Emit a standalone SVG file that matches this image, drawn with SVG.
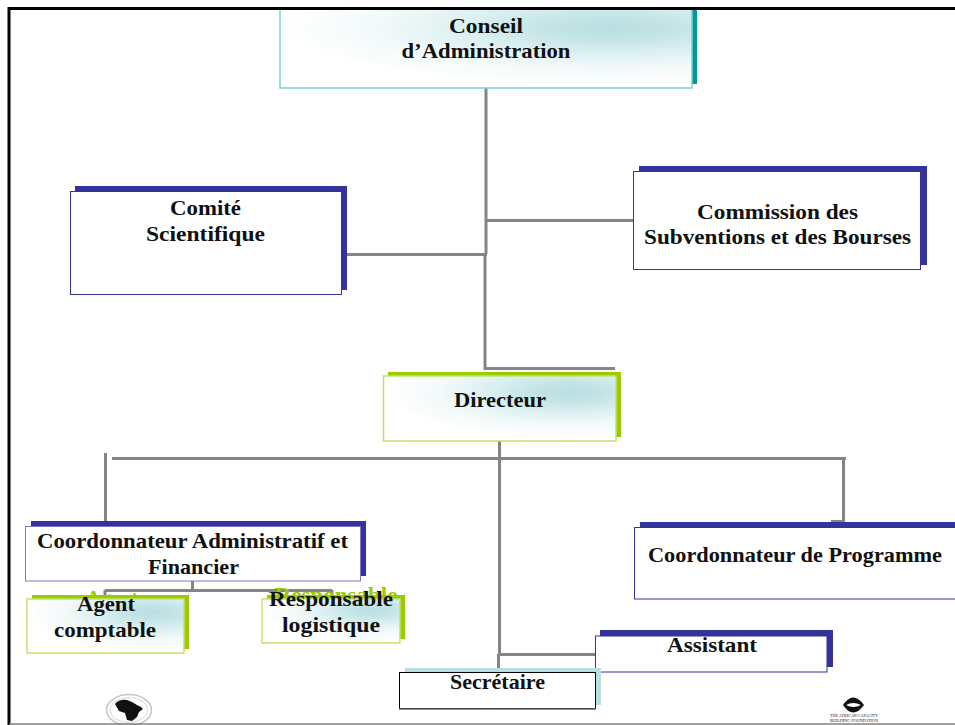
<svg xmlns="http://www.w3.org/2000/svg" width="955" height="725" viewBox="0 0 955 725">
<style>
text{font-family:"Liberation Serif","Times New Roman",serif;font-weight:700;font-size:21px;fill:#111;text-anchor:middle}
.ghost{fill:#99cc00}
.c{fill:none;stroke:#858585;stroke-width:3}
.blue{fill:#fff;stroke:#333399;stroke-width:1}
.sb{fill:#333399}.sg{fill:#99cc00}.st{fill:#009999}.sl{fill:#b9dfe2}
.gg{fill:url(#g);stroke:#c3e26c;stroke-width:1.5}
.gt{fill:url(#g);stroke:#7fcfcf;stroke-width:1.5}
.tiny{font-size:4.500px;font-weight:400}
</style>
<defs>
<radialGradient id="g" cx="0.8" cy="0.25" r="0.8" gradientTransform="translate(0.8 0.25) scale(1 0.88) translate(-0.8 -0.25)">
<stop offset="0" stop-color="#b9dfe2"/><stop offset="0.2" stop-color="#c4e4e6"/><stop offset="0.45" stop-color="#dcf0f1"/><stop offset="0.7" stop-color="#f2f9f9"/><stop offset="1" stop-color="#fff"/>
</radialGradient>
</defs>
<rect width="955" height="725" fill="#fff"/>
<g id="connectors">
<path class="c" d="M486 88V254M486 220.500H633M347 254.500H487M485 254V368.500H615"/>
<path class="c" d="M499.500 441V654M112 458.500H846M105.500 453V527M843.500 458V521.500H831M498 654.500H596M498.500 654V672"/>
<path class="c" d="M192.500 581V590.500M105 590.500H332M105 590V596M332 590V596"/>
</g>
<g id="conseil">
<rect class="st" x="285" y="8" width="412" height="76"/>
<rect class="gt" x="280" y="8" width="412" height="80"/>
<text x="486" y="33" textLength="74" lengthAdjust="spacingAndGlyphs">Conseil</text>
<text x="486" y="58" textLength="169" lengthAdjust="spacingAndGlyphs">d’Administration</text>
</g>
<g id="comite">
<rect class="sb" x="75" y="186" width="272" height="104"/>
<rect class="blue" x="70.500" y="191.500" width="271" height="103"/>
<text x="205.500" y="215" textLength="71" lengthAdjust="spacingAndGlyphs">Comité</text>
<text x="205.500" y="241" textLength="119" lengthAdjust="spacingAndGlyphs">Scientifique</text>
</g>
<g id="commission">
<rect class="sb" x="639" y="166" width="288" height="99"/>
<rect class="blue" x="633.500" y="171.500" width="287" height="98"/>
<text x="777.500" y="219" textLength="161" lengthAdjust="spacingAndGlyphs">Commission des</text>
<text x="777.500" y="244" textLength="267" lengthAdjust="spacingAndGlyphs">Subventions et des Bourses</text>
</g>
<g id="directeur">
<rect class="sg" x="388" y="372" width="233" height="65"/>
<rect class="gg" x="383.500" y="376" width="232.500" height="65"/>
<text x="500" y="407" textLength="92" lengthAdjust="spacingAndGlyphs">Directeur</text>
</g>
<g id="coord-admin">
<rect class="sb" x="31" y="521" width="335" height="55"/>
<rect class="blue" x="25.500" y="526.500" width="335" height="54.500" style="stroke:#7a7ac8"/>
<text x="192.500" y="548" textLength="311" lengthAdjust="spacingAndGlyphs">Coordonnateur Administratif et</text>
<text x="193.500" y="574" textLength="91" lengthAdjust="spacingAndGlyphs">Financier</text>
</g>
<g id="coord-prog">
<rect class="sb" x="640" y="522" width="315" height="72"/>
<rect class="blue" x="634.500" y="527.500" width="325" height="71.500"/>
<text x="795" y="562" textLength="294" lengthAdjust="spacingAndGlyphs">Coordonnateur de Programme</text>
</g>
<g id="agent">
<text class="ghost" x="112" y="605" textLength="52" lengthAdjust="spacingAndGlyphs">Agent</text>
<rect class="sg" x="32" y="595" width="157" height="54"/>
<rect class="gg" x="27" y="599" width="157" height="54"/>
<text x="106" y="611" textLength="58" lengthAdjust="spacingAndGlyphs">Agent</text>
<text x="105" y="637" textLength="102" lengthAdjust="spacingAndGlyphs">comptable</text>
</g>
<g id="responsable">
<text class="ghost" x="336" y="602" textLength="123" lengthAdjust="spacingAndGlyphs">Responsable</text>
<rect class="sg" x="267" y="595" width="138" height="44"/>
<rect class="gg" x="262" y="599" width="138" height="44"/>
<text x="331" y="606" textLength="124" lengthAdjust="spacingAndGlyphs">Responsable</text>
<text x="331" y="632" textLength="98" lengthAdjust="spacingAndGlyphs">logistique</text>
</g>
<g id="assistant">
<rect class="sb" x="600" y="630" width="233" height="37"/>
<rect class="blue" x="595.500" y="636" width="231.500" height="36"/>
<text x="712" y="652" textLength="90" lengthAdjust="spacingAndGlyphs">Assistant</text>
</g>
<g id="secretaire">
<rect class="sl" x="405" y="668" width="196" height="37"/>
<rect x="399.500" y="672.500" width="196" height="36" fill="#fff" stroke="#000" stroke-width="1"/>
<path d="M399 709H596" stroke="#666" stroke-width="1.500"/>
<text x="497.500" y="689" textLength="95" lengthAdjust="spacingAndGlyphs">Secrétaire</text>
</g>
<g id="logo-left">
<ellipse cx="129" cy="710" rx="22.500" ry="15.500" fill="#fff" stroke="#c4c4c4" stroke-width="1.500"/>
<ellipse cx="129" cy="710" rx="19" ry="12.500" fill="none" stroke="#d8d8d8" stroke-width="1"/>
<path d="M115 704Q119 699 127 700L132 702 137 705 141 707 143 709 139 712 137 717 132 721 127 720 125 713 119 711Z" fill="#111"/>
</g>
<g id="logo-right">
<path d="M843 705Q853 690 864 705Q853 720 843 705Z" fill="#111"/>
<path d="M846 705Q853 701 861 705Q853 709 846 705Z" fill="#fff"/>
<text class="tiny" x="854" y="717" textLength="48" lengthAdjust="spacingAndGlyphs">THE AFRICAN CAPACITY</text>
<text class="tiny" x="854" y="721.500" textLength="48" lengthAdjust="spacingAndGlyphs">BUILDING FOUNDATION</text>
</g>
<g id="frame">
<path d="M9 725V8.500H955" fill="none" stroke="#000" stroke-width="3"/>
<path d="M9 724H955" fill="none" stroke="#808080" stroke-width="1.500"/>
</g>
</svg>
